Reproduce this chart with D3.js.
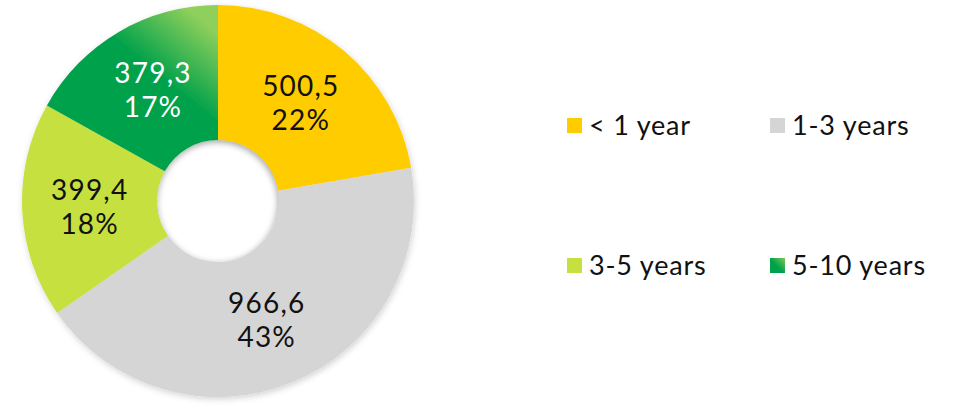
<!DOCTYPE html>
<html>
<head>
<meta charset="utf-8">
<script src="https://cdn.jsdelivr.net/npm/d3@7"></script>
<style>
  html, body { margin: 0; padding: 0; background: #fff; }
  svg { display: block; font-family: Lato, "Open Sans", sans-serif; }
</style>
</head>
<body>
<svg id="chart" width="954" height="406"></svg>
<script>
// Portfolio split by maturity bucket
const categories = ["< 1 year", "1-3 years", "3-5 years", "5-10 years"];
const amounts = [500.5, 966.6, 399.4, 379.3];
const amountLabels = ["500,5", "966,6", "399,4", "379,3"];
const shareLabels = ["22%", "43%", "18%", "17%"];
const colors = ["#ffcc00", "#d5d5d5", "#c6e03f", "url(#greenGrad)"];
const labelColors = ["#111", "#111", "#111", "#fff"];

const svg = d3.select("#chart");
const cx = 218, cy = 201, rOuter = 196, rInner = 61;

const defs = svg.append("defs");

// green slice gradient: light top-right edge fading into deep green
const g1 = defs.append("linearGradient").attr("id", "greenGrad")
  .attr("gradientUnits", "userSpaceOnUse")
  .attr("x1", cx).attr("y1", cy - rOuter + 5)
  .attr("x2", cx - 45).attr("y2", cy - rOuter + 60);
g1.append("stop").attr("offset", 0).attr("stop-color", "#8fd05c");
g1.append("stop").attr("offset", 1).attr("stop-color", "#00a14b");

// legend swatch gradient
const g2 = defs.append("linearGradient").attr("id", "greenSwatch")
  .attr("x1", 1).attr("y1", 0).attr("x2", 0).attr("y2", 1);
g2.append("stop").attr("offset", 0).attr("stop-color", "#7cc855");
g2.append("stop").attr("offset", 0.55).attr("stop-color", "#00a14b");
g2.append("stop").attr("offset", 1).attr("stop-color", "#00a14b");

// soft shadow under the ring
const sh = defs.append("filter").attr("id", "ringShadow")
  .attr("x", "-10%").attr("y", "-10%").attr("width", "120%").attr("height", "120%");
sh.append("feDropShadow").attr("dx", 1).attr("dy", 2).attr("stdDeviation", 3)
  .attr("flood-color", "#000").attr("flood-opacity", 0.18);

// blur for the shading inside the hole
defs.append("filter").attr("id", "holeBlur")
  .append("feGaussianBlur").attr("stdDeviation", 3);
defs.append("clipPath").attr("id", "holeClip")
  .append("circle").attr("cx", cx).attr("cy", cy).attr("r", rInner);

const pie = d3.pie().sort(null).value(d => d);
const arcs = pie(amounts);
const arc = d3.arc().innerRadius(rInner).outerRadius(rOuter);

const ring = svg.append("g")
  .attr("transform", `translate(${cx},${cy})`)
  .attr("filter", "url(#ringShadow)");
ring.selectAll("path")
  .data(arcs)
  .join("path")
  .attr("d", arc)
  .attr("fill", (d, i) => colors[i]);

// inset shading around the hole edge
svg.append("g").attr("clip-path", "url(#holeClip)")
  .append("circle")
  .attr("cx", cx - 2).attr("cy", cy + 2).attr("r", rInner + 6)
  .attr("fill", "none")
  .attr("stroke", "#000").attr("stroke-opacity", 0.22)
  .attr("stroke-width", 12)
  .attr("filter", "url(#holeBlur)");

// slice labels: value on first line, share on second
const labelArc = d3.arc().innerRadius(rInner).outerRadius(rOuter);
const labels = svg.append("g").attr("transform", `translate(${cx},${cy})`);
arcs.forEach((d, i) => {
  const [x, y] = labelArc.centroid(d);
  const t = labels.append("text")
    .attr("text-anchor", "middle")
    .attr("font-size", 28)
    .attr("letter-spacing", 1.2)
    .attr("fill", labelColors[i]);
  t.append("tspan").attr("x", x).attr("y", y - 7).text(amountLabels[i]);
  t.append("tspan").attr("x", x).attr("y", y + 27).text(shareLabels[i]);
});

// legend in a 2x2 grid
const legendCols = [567, 770];
const legendRows = [118, 258];
const swatchFills = ["#ffcc00", "#d5d5d5", "#c6e03f", "url(#greenSwatch)"];
const legend = svg.append("g");
categories.forEach((c, i) => {
  const x = legendCols[i % 2], y = legendRows[Math.floor(i / 2)];
  legend.append("rect")
    .attr("x", x).attr("y", y).attr("width", 15).attr("height", 15)
    .attr("fill", swatchFills[i]);
  legend.append("text")
    .attr("x", x + 22).attr("y", y + 17)
    .attr("font-size", 27)
    .attr("letter-spacing", 0.8)
    .attr("fill", "#111")
    .text(c);
});
</script>
</body>
</html>
